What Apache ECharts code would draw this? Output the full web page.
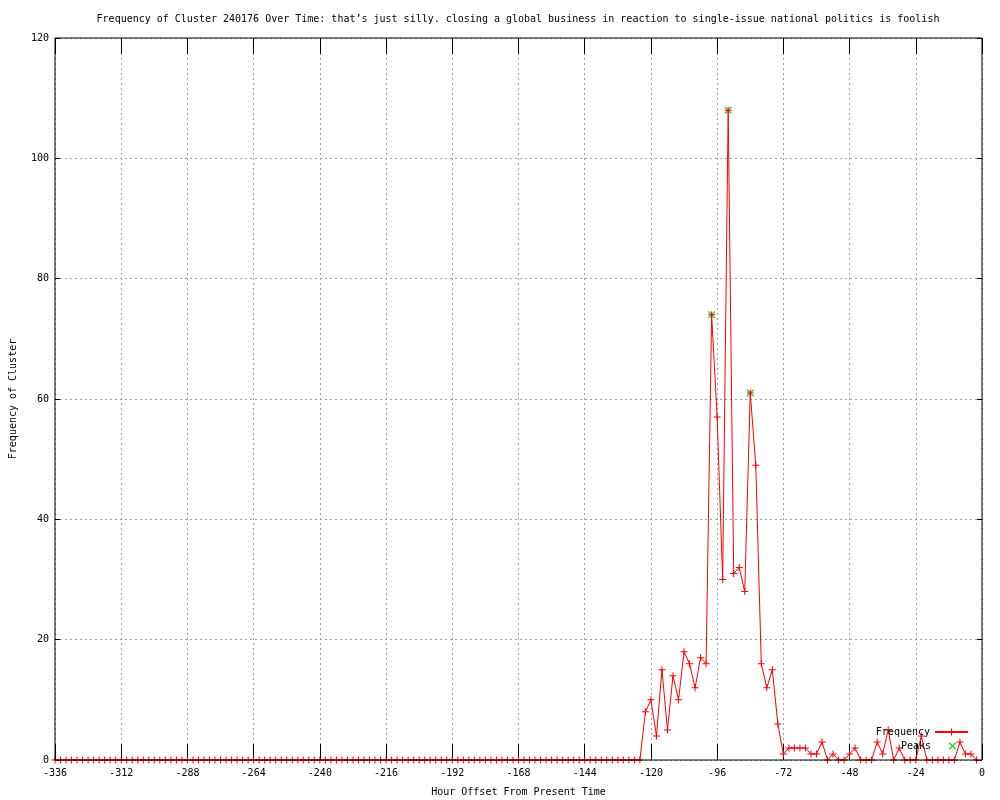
<!DOCTYPE html>
<html><head><meta charset="utf-8">
<script src="https://cdn.jsdelivr.net/npm/echarts@6/dist/echarts.min.js"></script>
<style>html,body{margin:0;padding:0;background:#fff}#c{width:1000px;height:800px}</style>
</head><body><div id="c"></div>
<script>
const titleText = "Frequency of Cluster 240176 Over Time: that\u2019s just silly. closing a global business in reaction to single-issue national politics is foolish";
const xAxisName = "Hour Offset From Present Time";
const yAxisName = "Frequency of Cluster";
const seriesNames = ["Frequency", "Peaks"];

const hours = [
  -336,-334,-332,-330,-328,-326,-324,-322,-320,-318,-316,-314,
  -312,-310,-308,-306,-304,-302,-300,-298,-296,-294,-292,-290,
  -288,-286,-284,-282,-280,-278,-276,-274,-272,-270,-268,-266,
  -264,-262,-260,-258,-256,-254,-252,-250,-248,-246,-244,-242,
  -240,-238,-236,-234,-232,-230,-228,-226,-224,-222,-220,-218,
  -216,-214,-212,-210,-208,-206,-204,-202,-200,-198,-196,-194,
  -192,-190,-188,-186,-184,-182,-180,-178,-176,-174,-172,-170,
  -168,-166,-164,-162,-160,-158,-156,-154,-152,-150,-148,-146,
  -144,-142,-140,-138,-136,-134,-132,-130,-128,-126,-124,-122,
  -120,-118,-116,-114,-112,-110,-108,-106,-104,-102,-100,-98,
  -96,-94,-92,-90,-88,-86,-84,-82,-80,-78,-76,-74,
  -72,-70,-68,-66,-64,-62,-60,-58,-56,-54,-52,-50,
  -48,-46,-44,-42,-40,-38,-36,-34,-32,-30,-28,-26,
  -24,-22,-20,-18,-16,-14,-12,-10,-8,-6,-4,-2
];
const frequency = [
  0,0,0,0,0,0,0,0,0,0,0,0,
  0,0,0,0,0,0,0,0,0,0,0,0,
  0,0,0,0,0,0,0,0,0,0,0,0,
  0,0,0,0,0,0,0,0,0,0,0,0,
  0,0,0,0,0,0,0,0,0,0,0,0,
  0,0,0,0,0,0,0,0,0,0,0,0,
  0,0,0,0,0,0,0,0,0,0,0,0,
  0,0,0,0,0,0,0,0,0,0,0,0,
  0,0,0,0,0,0,0,0,0,0,0,8,
  10,4,15,5,14,10,18,16,12,17,16,74,
  57,30,108,31,32,28,61,49,16,12,15,6,
  1,2,2,2,2,1,1,3,0,1,0,0,
  1,2,0,0,0,3,1,5,0,2,0,0,
  0,4,0,0,0,0,0,0,3,1,1,0
];
const peakHours = [-98, -92, -84];
const peakValues = [74, 108, 61];

const FONT = 'DejaVu Sans Mono';
const txt = {fontFamily: FONT, fontSize: 10, color: '#000', fontWeight: 'normal'};
const plusPath = 'path://M0,3H7V4H0ZM3,0H4V7H3Z';
const crossPath = 'path://M0,0L1,0L7,6L7,7L6,7L0,1ZM6,0L7,0L7,1L1,7L0,7L0,6Z';
const crossLegendPath = 'path://M0,0M33,7M13,0L14,0L20,6L20,7L19,7L13,1ZM19,0L20,0L20,1L14,7L13,7L13,6Z';

const gridLine = {show: true, lineStyle: {color: '#a0a0a0', width: 1, type: [2, 3]}};
const xTick = {show: true, inside: true, length: 16, lineStyle: {color: '#000', width: 1}};
const yTick = {show: true, inside: true, length: 5, lineStyle: {color: '#000', width: 1}};

const chart = echarts.init(document.getElementById('c'), null, {renderer: 'canvas'});
chart.setOption({
  animation: false,
  backgroundColor: '#fff',
  title: {text: titleText, left: 513, top: 9, textAlign: 'center', textStyle: txt},
  grid: {show: true, left: 55, right: 18, top: 38, bottom: 40, containLabel: false, outerBoundsMode: 'none',
         borderColor: '#000', borderWidth: 1, backgroundColor: 'transparent', z: 5},
  legend: [
    {data: [{name: seriesNames[0]}], orient: 'vertical', right: 31, top: 727, padding: 0, align: 'right',
     itemWidth: 33, itemHeight: 9, itemGap: 0, textStyle: txt, selectedMode: false},
    {data: [{name: seriesNames[1], icon: crossLegendPath}], orient: 'vertical', right: 31, top: 741, padding: 0, align: 'right',
     itemWidth: 33, itemHeight: 7, itemGap: 0, textStyle: txt, selectedMode: false}
  ],
  xAxis: [
    {type: 'value', min: -336, max: 0, interval: 24, position: 'bottom',
     name: xAxisName, nameLocation: 'middle', nameGap: 27, nameTextStyle: txt,
     axisLabel: Object.assign({margin: 8}, txt), axisLine: {show: false, onZero: false}, axisTick: xTick,
     splitLine: gridLine},
    {type: 'value', min: -336, max: 0, interval: 24, position: 'top',
     axisLabel: {show: false}, axisLine: {show: false, onZero: false}, axisTick: xTick,
     splitLine: {show: false}}
  ],
  yAxis: [
    {type: 'value', min: 0, max: 120, interval: 20, position: 'left',
     name: yAxisName, nameLocation: 'middle', nameGap: 37, nameRotate: 90, nameTextStyle: txt,
     axisLabel: Object.assign({margin: 6}, txt), axisLine: {show: false, onZero: false}, axisTick: yTick,
     splitLine: gridLine},
    {type: 'value', min: 0, max: 120, interval: 20, position: 'right',
     axisLabel: {show: false}, axisLine: {show: false, onZero: false}, axisTick: yTick,
     splitLine: {show: false}}
  ],
  series: [
    {type: 'line', name: seriesNames[0], xAxisIndex: 0, yAxisIndex: 0,
     data: hours.map((h, i) => [h, frequency[i]]),
     symbol: plusPath, symbolSize: 7, showAllSymbol: true, clip: false, silent: true,
     lineStyle: {color: '#ff0000', width: 1}, itemStyle: {color: '#ff0000'}, z: 3,
     emphasis: {disabled: true}},
    {type: 'scatter', name: seriesNames[1], xAxisIndex: 0, yAxisIndex: 0,
     data: peakHours.map((h, i) => [h, peakValues[i]]),
     symbol: crossPath, symbolSize: 7, clip: false, silent: true,
     itemStyle: {color: '#00c000'}, z: 2, emphasis: {disabled: true}}
  ]
});
</script>
</body></html>
